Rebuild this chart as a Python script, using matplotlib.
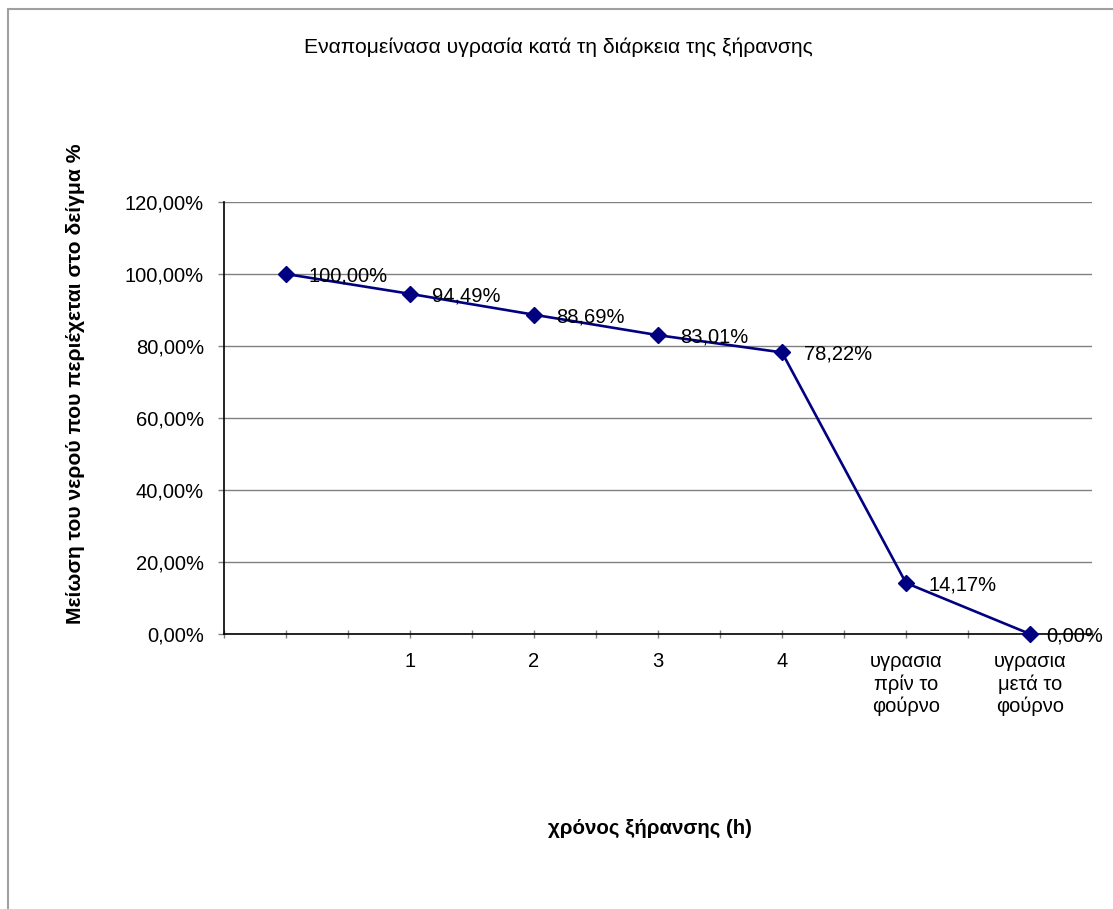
import matplotlib

matplotlib.use("Agg")
import matplotlib.pyplot as plt
from matplotlib.patches import Rectangle
from matplotlib.ticker import FuncFormatter

categories = [
    "",
    "1",
    "2",
    "3",
    "4",
    "υγρασια\nπρίν το\nφούρνο",
    "υγρασια\nμετά το\nφούρνο",
]
moisture = [1.0, 0.9449, 0.8869, 0.8301, 0.7822, 0.1417, 0.0]
y_ticks = [0.0, 0.2, 0.4, 0.6, 0.8, 1.0, 1.2]

NAVY = "#000080"
GRID = "#808080"
W, H = 1113, 909

plt.rcParams["font.family"] = ["Liberation Sans", "DejaVu Sans"]


def pct(value, _pos=None):
    return f"{value * 100:.2f}%".replace(".", ",")


fig = plt.figure(figsize=(W / 100, H / 100), dpi=100)
ax = fig.add_axes([224 / W, 1 - 634 / H, (1092 - 224) / W, (634 - 202) / H])

x = list(range(len(categories)))
ax.plot(x, moisture, color=NAVY, lw=1.9, marker="D", ms=8.5,
        markerfacecolor=NAVY, markeredgecolor=NAVY, zorder=3, clip_on=False)

for xi, yi in zip(x, moisture):
    dx = 12 if xi == len(x) - 1 else 16
    ax.annotate(pct(yi), (xi, yi), xytext=(dx, -1.5), textcoords="offset points",
                ha="left", va="center", fontsize=14.5, color="black",
                annotation_clip=False, zorder=4)

ax.set_xlim(-0.5, len(categories) - 0.5)
ax.set_ylim(0, 1.2)
ax.set_yticks(y_ticks)
ax.yaxis.set_major_formatter(FuncFormatter(pct))
ax.set_xticks(x)
ax.set_xticklabels(categories, linespacing=1.2)
ax.set_xticks([i - 0.5 for i in range(len(categories) + 1)], minor=True)

ax.grid(axis="y", color=GRID, lw=1)
ax.set_axisbelow(True)
for side in ("top", "right"):
    ax.spines[side].set_visible(False)
for side in ("left", "bottom"):
    ax.spines[side].set_color("black")
    ax.spines[side].set_linewidth(1.2)

ax.tick_params(axis="y", labelsize=14.5, length=4.5, width=1, color=GRID, pad=10)
ax.tick_params(axis="x", which="both", direction="inout", length=6, width=1,
               color=GRID)
ax.tick_params(axis="x", which="major", labelsize=14.5, pad=10)

fig.text(558 / W, 1 - 47 / H, "Εναπομείνασα υγρασία κατά τη διάρκεια της ξήρανσης",
         ha="center", va="center", fontsize=15.2)
fig.text(76 / W, 1 - 384 / H, "Μείωση του νερού που περιέχεται στο δείγμα %",
         ha="center", va="center", rotation=90, fontsize=15.2, fontweight="bold")
fig.text(650 / W, 1 - 828 / H, "χρόνος ξήρανσης (h)",
         ha="center", va="center", fontsize=14.8, fontweight="bold")

# outer chart frame, only its top and left edges fall inside the image
fig.add_artist(Rectangle((8 / W, -0.05), 1.1, 1.05 - 9 / H, transform=fig.transFigure,
                         fill=False, edgecolor="#a0a0a0", lw=1.5))

fig.savefig("out.png", dpi=100, facecolor="white")
